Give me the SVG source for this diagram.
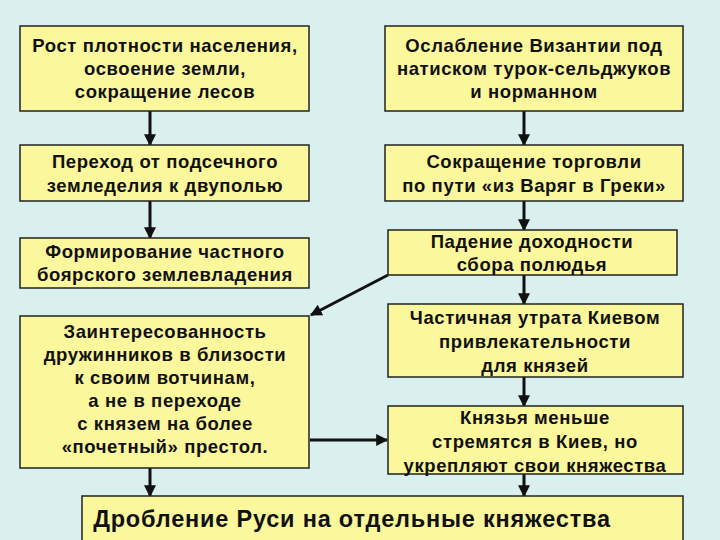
<svg xmlns="http://www.w3.org/2000/svg" width="720" height="540" viewBox="0 0 720 540">
<defs>
<marker id="ah" viewBox="0 0 10 10" refX="9" refY="5" markerWidth="4" markerHeight="4" orient="auto"><path d="M0,0L10,5L0,10z" fill="#111"/></marker>
<style>
.b{fill:#fbf79c;stroke:#222;stroke-width:1.5}
text{font-family:"Liberation Sans",Arial,sans-serif;font-weight:bold;font-size:18.5px;letter-spacing:0.6px;fill:#111;text-anchor:middle}
.c{stroke:#111;stroke-width:3;fill:none;marker-end:url(#ah)}
</style>
</defs>
<rect width="720" height="540" fill="#d9f0ee"/>
<g id="connectors">
<line class="c" x1="150" y1="111" x2="150" y2="145"/>
<line class="c" x1="150" y1="201" x2="150" y2="238"/>
<line class="c" x1="150" y1="468" x2="150" y2="496"/>
<line class="c" x1="524" y1="111" x2="524" y2="145"/>
<line class="c" x1="524" y1="201" x2="524" y2="230"/>
<line class="c" x1="524" y1="275" x2="524" y2="304"/>
<line class="c" x1="524" y1="377" x2="524" y2="406"/>
<line class="c" x1="524" y1="474" x2="524" y2="496"/>
<line class="c" x1="388" y1="275" x2="311" y2="315"/>
<line class="c" x1="310" y1="440" x2="387" y2="440"/>
</g>
<g id="n1"><rect class="b" x="20" y="26" width="289" height="85"/><text x="165" y="52">Рост плотности населения,</text><text x="165" y="75">освоение земли,</text><text x="165" y="98">сокращение лесов</text></g>
<g id="n2"><rect class="b" x="20" y="145" width="289" height="56"/><text x="165" y="168">Переход от подсечного</text><text x="165" y="192">земледелия к двуполью</text></g>
<g id="n3"><rect class="b" x="20" y="238" width="289" height="50"/><text x="165" y="258">Формирование частного</text><text x="165" y="281">боярского землевладения</text></g>
<g id="n4"><rect class="b" x="20" y="316" width="289" height="152"/><text x="165" y="338">Заинтересованность</text><text x="165" y="361">дружинников в близости</text><text x="165" y="384">к своим вотчинам,</text><text x="165" y="407">а не в переходе</text><text x="165" y="430">с князем на более</text><text x="165" y="453">«почетный» престол.</text></g>
<g id="n5"><rect class="b" x="385" y="26" width="298" height="85"/><text x="534" y="52">Ослабление Византии под</text><text x="534" y="75">натиском турок-сельджуков</text><text x="534" y="98">и норманном</text></g>
<g id="n6"><rect class="b" x="385" y="145" width="298" height="56"/><text x="534" y="168">Сокращение торговли</text><text x="534" y="192">по пути  «из Варяг в Греки»</text></g>
<g id="n7"><rect class="b" x="388" y="230" width="289" height="45"/><text x="532" y="248">Падение доходности</text><text x="532" y="271">сбора полюдья</text></g>
<g id="n8"><rect class="b" x="388" y="304" width="295" height="73"/><text x="535" y="324">Частичная утрата Киевом</text><text x="535" y="348">привлекательности</text><text x="535" y="372">для князей</text></g>
<g id="n9"><rect class="b" x="388" y="406" width="295" height="68"/><text x="535" y="424">Князья меньше</text><text x="535" y="448">стремятся в Киев, но</text><text x="535" y="472">укрепляют свои княжества</text></g>
<g id="n10"><rect class="b" x="82" y="496" width="601" height="50"/><text x="352" y="527" style="font-size:23.5px;letter-spacing:0.8px">Дробление Руси на отдельные княжества</text></g>
</svg>
